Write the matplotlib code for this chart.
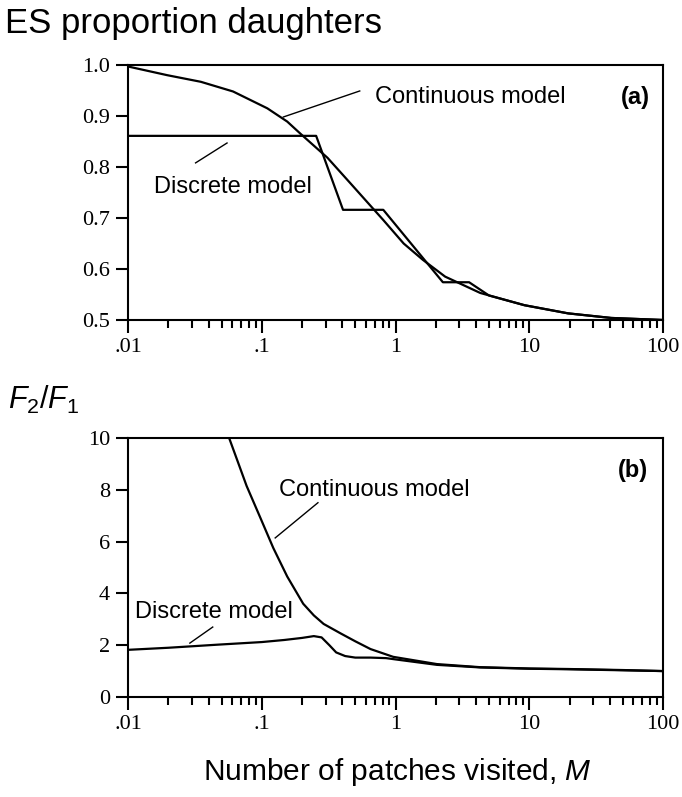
import numpy as np
import matplotlib
matplotlib.use('Agg')
import matplotlib.pyplot as plt
from matplotlib.ticker import LogLocator, FixedLocator, FixedFormatter, NullFormatter

# panel (a): ES proportion daughters
cont_a_M = [0.01, 0.0196, 0.035, 0.061, 0.11, 0.155, 0.195, 0.31, 0.46, 0.66, 0.81, 1.15, 1.6, 2.35, 4.3, 9.2, 19.5, 41, 100]
cont_a = [0.997, 0.98, 0.967, 0.948, 0.915, 0.889, 0.865, 0.818, 0.768, 0.722, 0.696, 0.65, 0.618, 0.585, 0.553, 0.529, 0.513, 0.504, 0.5]

disc_a_M = [0.01, 0.255, 0.405, 0.81, 2.26, 3.55, 5.0, 9.2, 19.5, 41, 100]
disc_a = [0.861, 0.861, 0.716, 0.716, 0.574, 0.574, 0.548, 0.529, 0.513, 0.504, 0.5]

# panel (b): F2/F1
cont_b_M = [0.057, 0.066, 0.077, 0.097, 0.122, 0.155, 0.204, 0.245, 0.29, 0.39, 0.5, 0.65, 0.96, 2.04, 4.3, 10, 19.5, 50, 100]
cont_b = [10.0, 9.1, 8.15, 6.95, 5.75, 4.65, 3.6, 3.15, 2.82, 2.45, 2.15, 1.85, 1.55, 1.27, 1.15, 1.1, 1.08, 1.04, 1.0]

disc_b_M = [0.01, 0.02, 0.047, 0.1, 0.147, 0.2, 0.245, 0.28, 0.32, 0.36, 0.42, 0.5, 0.65, 0.85, 1.0, 2.04, 4.3, 10, 19.5, 50, 100]
disc_b = [1.82, 1.9, 2.02, 2.12, 2.2, 2.28, 2.35, 2.3, 2.0, 1.72, 1.58, 1.52, 1.52, 1.5, 1.45, 1.24, 1.14, 1.09, 1.07, 1.03, 1.0]

x_ticks = [0.01, 0.1, 1, 10, 100]
x_ticklabels = ['.01', '.1', '1', '10', '100']
ya_ticks = [0.5, 0.6, 0.7, 0.8, 0.9, 1.0]
ya_ticklabels = ['0.5', '0.6', '0.7', '0.8', '0.9', '1.0']
yb_ticks = [0, 2, 4, 6, 8, 10]
yb_ticklabels = ['0', '2', '4', '6', '8', '10']

plt.rcParams['font.family'] = ['Liberation Sans', 'DejaVu Sans']
plt.rcParams['mathtext.fontset'] = 'custom'
plt.rcParams['mathtext.it'] = 'Liberation Sans:italic'
plt.rcParams['mathtext.rm'] = 'Liberation Sans'

serif = 'Liberation Serif'
lw = 1.6


def style_axis(ax, yticks, ylabels):
    ax.set_xscale('log')
    ax.set_xlim(0.01, 100)
    ax.xaxis.set_major_locator(FixedLocator(x_ticks))
    ax.xaxis.set_major_formatter(FixedFormatter(x_ticklabels))
    ax.xaxis.set_minor_locator(LogLocator(base=10, subs=np.arange(2, 10)))
    ax.xaxis.set_minor_formatter(NullFormatter())
    ax.set_yticks(yticks)
    ax.set_yticklabels(ylabels)
    ax.tick_params(axis='both', which='major', direction='out', length=9, width=1.5,
                   top=False, right=False, labelsize=16, pad=4)
    ax.tick_params(axis='x', which='minor', direction='out', length=6, width=1.5, top=False)
    ax.tick_params(axis='y', which='minor', left=False, right=False)
    for lab in ax.get_xticklabels() + ax.get_yticklabels():
        lab.set_fontfamily(serif)
    for s in ax.spines.values():
        s.set_linewidth(1.5)


fig = plt.figure(figsize=(6.82, 7.97), dpi=100)

ax1 = fig.add_axes([0.1877, 0.5985, 0.7845, 0.32])
ax1.plot(cont_a_M, cont_a, color='black', lw=lw)
ax1.plot(disc_a_M, disc_a, color='black', lw=lw)
ax1.set_ylim(0.5, 1.0)
style_axis(ax1, ya_ticks, ya_ticklabels)
ax1.text(3.6, 0.937, 'Continuous model', ha='center', va='center', fontsize=17)
ax1.plot([0.145, 0.54], [0.898, 0.949], color='black', lw=1.0)
ax1.text(0.061, 0.761, 'Discrete model', ha='center', va='center', fontsize=17)
ax1.plot([0.032, 0.055], [0.808, 0.847], color='black', lw=1.0)
ax1.text(62, 0.937, '(a)', ha='center', va='center', fontsize=17, fontweight='bold')

ax2 = fig.add_axes([0.1877, 0.1255, 0.7845, 0.325])
ax2.plot(cont_b_M, cont_b, color='black', lw=lw)
ax2.plot(disc_b_M, disc_b, color='black', lw=lw)
ax2.set_ylim(0, 10)
style_axis(ax2, yb_ticks, yb_ticklabels)
ax2.text(0.69, 8.0, 'Continuous model', ha='center', va='center', fontsize=17)
ax2.plot([0.126, 0.263], [6.14, 7.5], color='black', lw=1.0)
ax2.text(0.044, 3.28, 'Discrete model', ha='center', va='center', fontsize=17)
ax2.plot([0.029, 0.043], [2.08, 2.7], color='black', lw=1.0)
ax2.text(60, 8.76, '(b)', ha='center', va='center', fontsize=17, fontweight='bold')

fig.text(0.008, 1 - 33 / 797, 'ES proportion daughters', ha='left', va='baseline', fontsize=25)
fig.text(0.012, 1 - 400 / 797, '$F_2/F_1$', ha='left', va='center', fontsize=22)
fig.text(397 / 682, 1 - 780 / 797, 'Number of patches visited, $M$', ha='center', va='baseline', fontsize=21.5)

plt.savefig('out.png', dpi=100)
